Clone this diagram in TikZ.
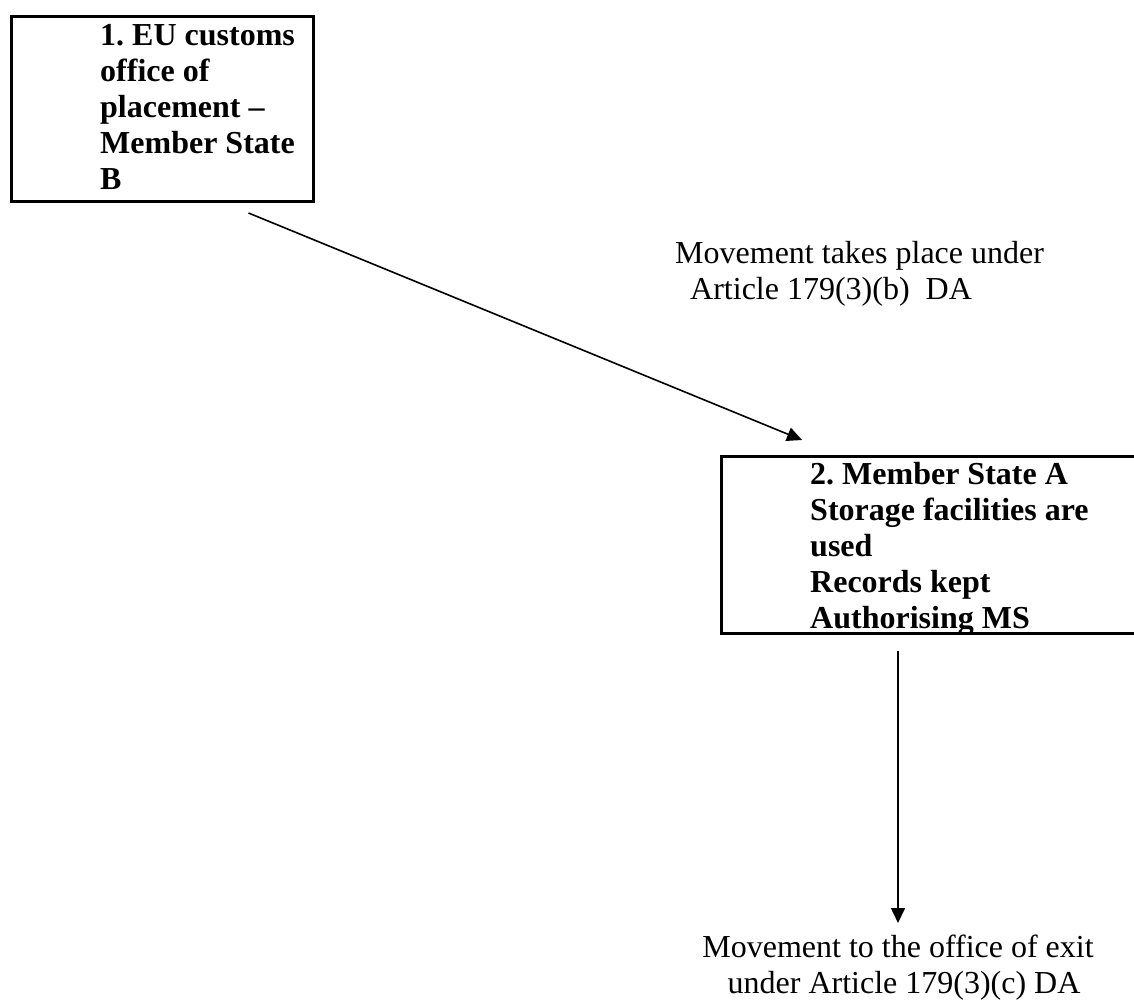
\documentclass[tikz,border=0pt]{standalone}
\usepackage{fontspec}
\setmainfont{Liberation Serif}
\usetikzlibrary{positioning}
\usetikzlibrary{positioning, arrows.meta}

\tikzset{
    box/.style={draw=black, line width=3pt, inner sep=0pt, anchor=north west},
    boxtext/.style={align=left, inner sep=0pt, font=\fontsize{32}{36}\selectfont\bfseries\frenchspacing},
    note/.style={inner sep=0pt, font=\fontsize{32}{36}\selectfont\frenchspacing},
    flow/.style={line width=1.6pt, -{Triangle[length=15pt, width=14pt]}}
}

\begin{document}
\begin{tikzpicture}[x=1pt, y=-1pt]
    \useasboundingbox (0,0) rectangle (1134,1000);
    % boxes
    \node[box, minimum width=302pt, minimum height=185pt] (office) at (10,15) {};
    \node[boxtext, below right=9pt and 90pt of office.north west] (officetext) {
        1. EU customs\\
        office of\\
        placement –\\
        Member State\\
        B
    };
    \node[box, minimum width=420pt, minimum height=177pt] (storage) at (720,455) {};
    \node[boxtext, below right=7pt and 90pt of storage.north west] (storagetext) {
        2. Member State A\\
        Storage facilities are\\
        used\\
        Records kept\\
        Authorising MS
    };
    % labels
    \node[note, align=left, anchor=north west] (move) at (675,241)
        {Movement takes place under\\\hspace*{15pt}Article 179(3)(b)\ \ DA};
    \node[note, align=center, anchor=north] (exit) at (898,935)
        {Movement to the office of exit\\\hspace*{12pt}under Article 179(3)(c) DA};
    % arrows
    \coordinate[below right=10pt and 86pt of office.south] (leave);
    \coordinate[above right=15pt and 82pt of storage.north west] (arrive);
    \coordinate[below right=16pt and 178pt of storage.south west] (down);
    \draw[flow] (leave) -- (arrive);
    \draw[flow, shorten >=12pt] (down) -- (exit.north);
\end{tikzpicture}
\end{document}
